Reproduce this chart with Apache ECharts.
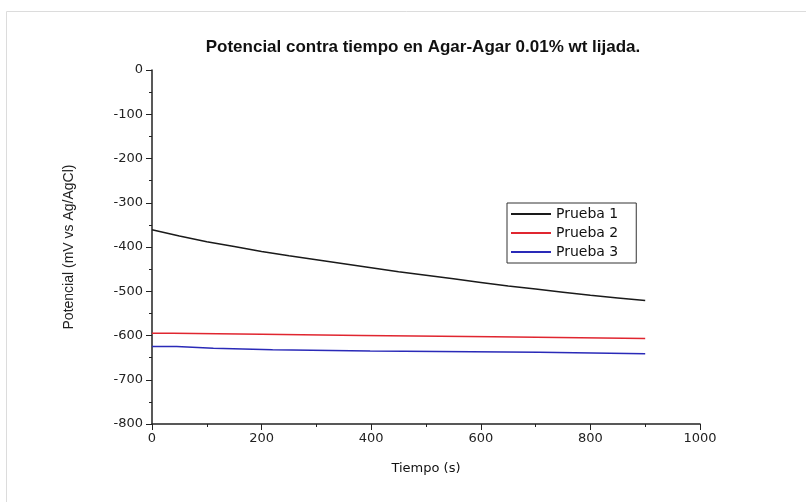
<!DOCTYPE html>
<html>
<head>
<meta charset="utf-8">
<script src="https://cdn.jsdelivr.net/npm/echarts@6/dist/echarts.min.js"></script>
<style>
  html, body { margin: 0; padding: 0; background: #fff; }
  #chart { width: 806px; height: 502px; }
</style>
</head>
<body>
<div id="chart"></div>
<script>
// Time-potential readings (t in s, potential in mV vs Ag/AgCl)
const prueba1T = [0, 50, 100, 150, 200, 250, 300, 350, 400, 450, 500, 550, 600, 650, 700, 750, 800, 850, 900];
const prueba1V = [-361, -375, -388, -399, -410, -420, -429, -438, -447, -456, -464, -472, -480, -488, -495, -502, -509, -515, -521];

// Prueba 2 and 3 change in discrete steps: time of each change and the new level
const prueba2T = [0, 38, 200, 383, 622, 900];
const prueba2V = [-595, -597, -600, -603, -607, -607];

const prueba3T = [0, 45, 112, 220, 398, 706, 900];
const prueba3V = [-625, -629, -632, -635, -638, -641, -641];

const seriesNames = ['Prueba 1', 'Prueba 2', 'Prueba 3'];
const seriesColors = ['#1a1a1a', '#e02630', '#2a2ab8'];
const xTicks = { min: 0, max: 1000, interval: 200 };
const yTicks = { min: -800, max: 0, interval: 100 };

const pairs = (t, v) => t.map((x, i) => [x, v[i]]);

const font = '"Liberation Sans", Arial, sans-serif';
const chart = echarts.init(document.getElementById('chart'), null, { renderer: 'canvas' });

chart.setOption({
  backgroundColor: '#fff',
  animation: false,
  title: {
    text: 'Potencial contra tiempo en Agar-Agar 0.01% wt lijada.',
    left: 418,
    textAlign: 'center',
    top: 34,
    textStyle: { fontFamily: font, fontSize: 17, fontWeight: 'bold', color: '#111' }
  },
  graphic: [{
    type: 'rect',
    shape: { x: 6.5, y: 11.5, width: 805, height: 500 },
    style: { fill: 'none', stroke: '#dcdcdc', lineWidth: 1 },
    silent: true
  }],
  legend: {
    orient: 'vertical',
    left: 507,
    top: 203,
    data: seriesNames.map((n, i) => ({ name: n, itemStyle: { color: seriesColors[i] } })),
    itemWidth: 40,
    itemHeight: 2,
    itemGap: 5,
    padding: [4, 18, 4, 4],
    borderColor: '#333',
    borderWidth: 1,
    borderRadius: 0,
    backgroundColor: '#fff',
    icon: 'rect',
    textStyle: { fontFamily: '"DejaVu Sans", sans-serif', fontSize: 14, color: '#111' }
  },
  grid: { left: 152, right: 106, top: 70, bottom: 78 },
  xAxis: {
    type: 'value',
    min: xTicks.min, max: xTicks.max, interval: xTicks.interval,
    name: 'Tiempo (s)',
    nameLocation: 'middle',
    nameGap: 38,
    nameTextStyle: { fontFamily: '"DejaVu Sans", sans-serif', fontSize: 13, color: '#111' },
    axisLine: { onZero: false, lineStyle: { color: '#222', width: 1.5 } },
    axisTick: { length: 6, lineStyle: { color: '#222' } },
    minorTick: { show: true, splitNumber: 2, length: 3, lineStyle: { color: '#222' } },
    axisLabel: { fontFamily: '"DejaVu Sans", sans-serif', fontSize: 13, color: '#222', margin: 8,
                 formatter: v => String(v) },
    splitLine: { show: false }
  },
  yAxis: {
    type: 'value',
    min: yTicks.min, max: yTicks.max, interval: yTicks.interval,
    name: 'Potencial (mV vs Ag/AgCl)',
    nameLocation: 'middle',
    nameGap: 76,
    nameRotate: 90,
    nameTextStyle: { fontFamily: font, fontSize: 14, color: '#222' },
    axisLine: { show: true, lineStyle: { color: '#222', width: 1.5 } },
    axisTick: { show: true, length: 6, lineStyle: { color: '#222' } },
    minorTick: { show: true, splitNumber: 2, length: 3, lineStyle: { color: '#222' } },
    axisLabel: { fontFamily: '"DejaVu Sans", sans-serif', fontSize: 13, color: '#222', margin: 9 },
    splitLine: { show: false }
  },
  series: [
    {
      name: seriesNames[0], type: 'line', showSymbol: false,
      data: pairs(prueba1T, prueba1V),
      lineStyle: { color: seriesColors[0], width: 1.5 }, itemStyle: { color: seriesColors[0] }
    },
    {
      name: seriesNames[1], type: 'line', showSymbol: false, step: 'end',
      data: pairs(prueba2T, prueba2V),
      lineStyle: { color: seriesColors[1], width: 1.5 }, itemStyle: { color: seriesColors[1] }
    },
    {
      name: seriesNames[2], type: 'line', showSymbol: false, step: 'end',
      data: pairs(prueba3T, prueba3V),
      lineStyle: { color: seriesColors[2], width: 1.5 }, itemStyle: { color: seriesColors[2] }
    }
  ]
});
</script>
</body>
</html>
